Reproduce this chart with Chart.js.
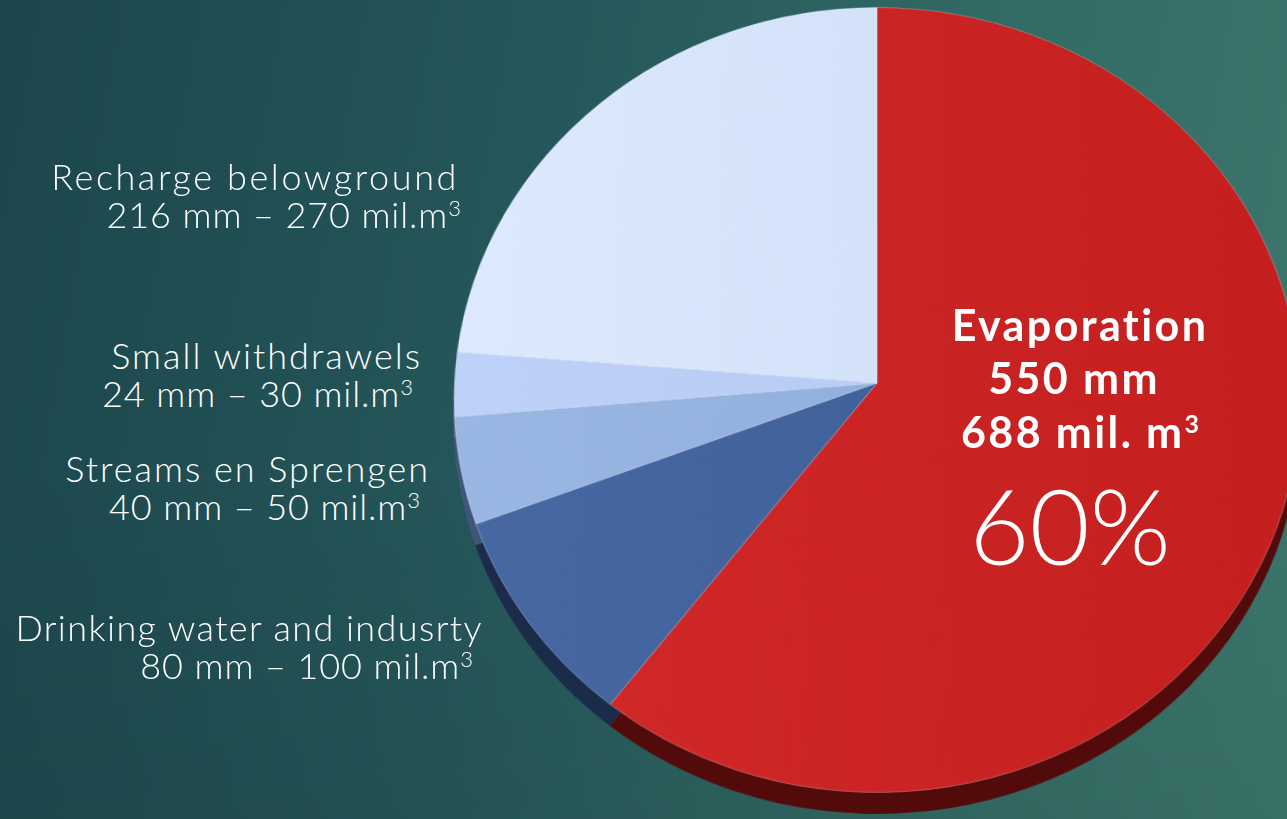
<!DOCTYPE html>
<html>
<head>
<meta charset="utf-8">
<script src="https://cdn.jsdelivr.net/npm/chart.js@4"></script>
<style>
  html, body { margin: 0; padding: 0; }
  body {
    width: 1287px; height: 819px; overflow: hidden; position: relative;
    background:
      linear-gradient(to bottom, rgba(0,0,0,0) 55%, rgba(0,0,0,0.07) 100%),
      linear-gradient(100deg, #1b464c 0%, #25575a 40%, #326a64 70%, #3c776d 100%);
    font-family: "Lato", "Open Sans", sans-serif;
    color: #fff;
  }
  .pie {
    position: absolute; left: 454px; top: -40px; width: 846px; height: 846px;
    transform: perspective(3663px) rotateX(22deg);
  }
  .rim { top: -19px; }
  .lbl {
    position: absolute; font-weight: 300; font-size: 36px; line-height: 38px;
    white-space: nowrap; text-align: right; letter-spacing: 2px;
  }
  .lbl.val { letter-spacing: 0.9px; }
  .lbl sup { font-size: 22px; vertical-align: 12px; line-height: 0; letter-spacing: 0; }
  .evap {
    position: absolute; width: 320px; text-align: center; white-space: nowrap;
    font-weight: 700; font-size: 43px; line-height: 54px; letter-spacing: 2.4px;
  }
  .evap sup { font-size: 25px; vertical-align: 15px; line-height: 0; letter-spacing: 0; }
  .pct { font-weight: 300; font-size: 104px; line-height: 110px; letter-spacing: 0; }
</style>
</head>
<body>
<div class="pie rim"><canvas id="rim" width="846" height="846"></canvas></div>
<div class="pie"><canvas id="pie" width="846" height="846"></canvas></div>
<div id="labels"></div>
<script>
// Gegevens: waterbalans (mm en mil. m3)
const categories = ['Evaporation', 'Drinking water and indusrty', 'Streams en Sprengen', 'Small withdrawels', 'Recharge belowground'];
const valuesMm = [550, 80, 40, 24, 216];
const valuesMil = [688, 100, 50, 30, 270];
const percentLabel = '60%';

// kleuren: links -> rechts verloop, en donkere rand
const topColors = [['#d32a2a', '#c41e1e'], ['#4768a3', '#3c5b92'], ['#9ab7e3', '#8caad8'], ['#bed1f8', '#b2c6ef'], ['#dce9fe', '#ccdbf5']];
const rimColors = ['#520a0a', '#1b2c4b', '#3f5678', '#56688c', '#687a99'];

function gradientFill(context) {
    const i = context.dataIndex;
    const chart = context.chart;
    const area = chart.chartArea;
    if (!area || i === undefined) return topColors[0][1];
    const g = chart.ctx.createLinearGradient(area.left, 0, area.right, 0);
    g.addColorStop(0, topColors[i][0]);
    g.addColorStop(1, topColors[i][1]);
    return g;
}

function makePie(id, colors, border) {
    return new Chart(document.getElementById(id), {
        type: 'pie',
        data: {
            labels: categories,
            datasets: [{
                data: valuesMm,
                backgroundColor: colors,
                borderWidth: border ? 1 : 0,
                borderColor: 'rgba(235,242,255,0.3)'
            }]
        },
        options: {
            responsive: false,
            animation: false,
            layout: { padding: 0 },
            plugins: { legend: { display: false }, tooltip: { enabled: false } }
        }
    });
}

makePie('rim', rimColors, false);
makePie('pie', gradientFill, true);

// Labels links van de taart
const labelPos = [
    null,
    { r1: 483, r2: 473, y: 627, ls: 1.4 },
    { r1: 430, r2: 420, y: 468, ls: 2 },
    { r1: 422, r2: 413, y: 355, ls: 2 },
    { r1: 459, r2: 461, y: 176, ls: 2.6 }
];
const holder = document.getElementById('labels');
let html = '';
for (let i = 1; i < categories.length; i++) {
    const p = labelPos[i];
    html += `<div class="lbl" style="right:${1287 - p.r1}px;top:${p.y - 19}px;letter-spacing:${p.ls}px">${categories[i]}</div>`;
    html += `<div class="lbl val" style="right:${1287 - p.r2}px;top:${p.y + 38 - 19}px">${valuesMm[i]} mm – ${valuesMil[i]} mil.m<sup>3</sup></div>`;
}
// Evaporation tekst in rode sector
html += `<div class="evap" style="left:920px;top:298px">${categories[0]}</div>`;
html += `<div class="evap" style="left:914px;top:351px">${valuesMm[0]} mm</div>`;
html += `<div class="evap" style="left:920px;top:405px">${valuesMil[0]} mil. m<sup>3</sup></div>`;
html += `<div class="evap pct" style="left:910px;top:470px">${percentLabel}</div>`;
holder.innerHTML = html;
</script>
</body>
</html>
